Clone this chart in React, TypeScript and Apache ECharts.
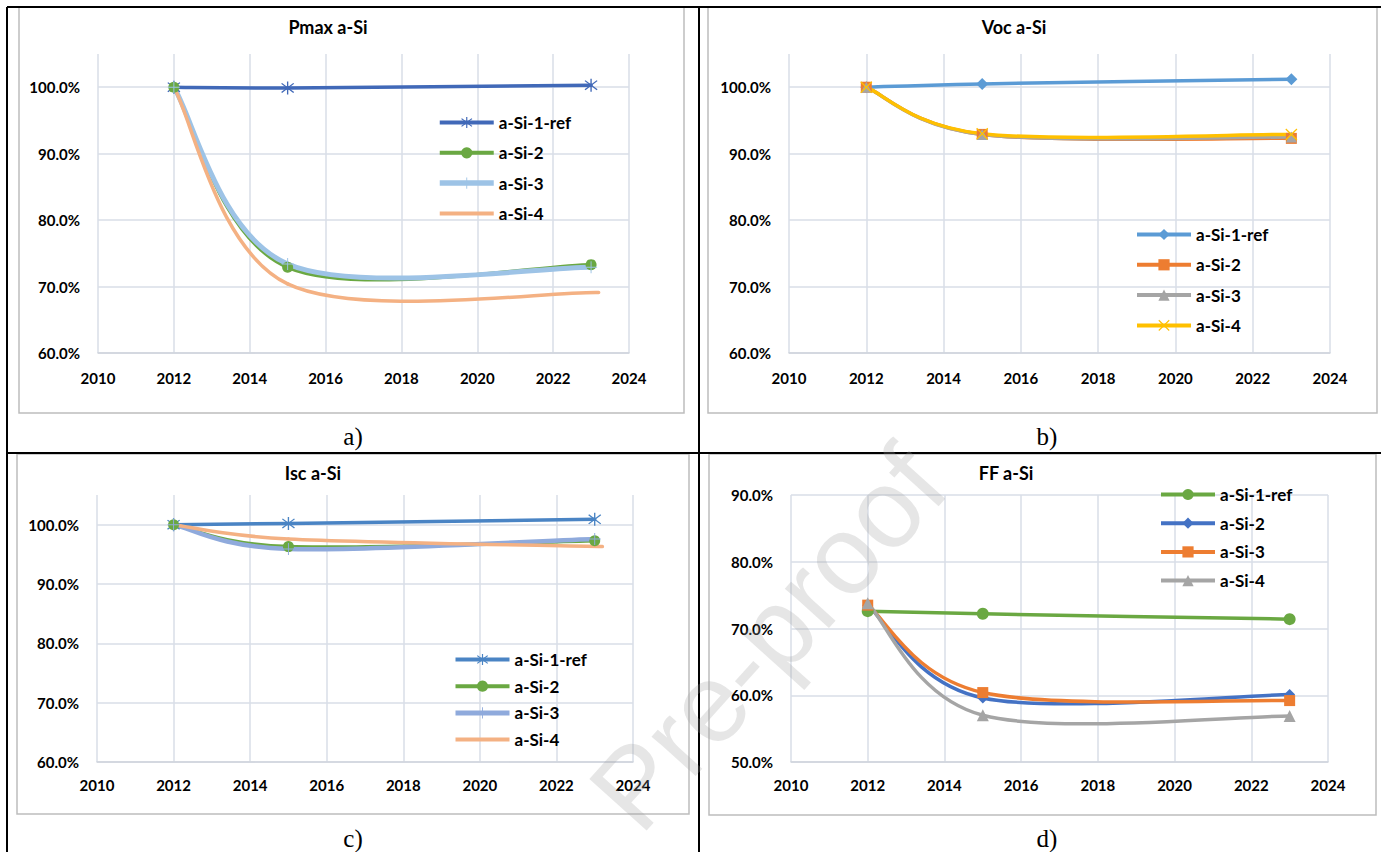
import React, { useEffect, useRef } from 'react';
import * as echarts from 'echarts';

// ---------- data ----------
const seriesLabels = ['a-Si-1-ref', 'a-Si-2', 'a-Si-3', 'a-Si-4'];
const years = [2012, 2015, 2023];
const yearsLate = [2012, 2015, 2023.2];

const pmaxRef = [100.0, 99.9, 100.3];
const pmax2 = [100.0, 72.9, 73.3];
const pmax3 = [100.0, 73.4, 72.9];
const pmax4 = [100.0, 70.4, 69.1];

const vocRef = [100.0, 100.5, 101.2];
const voc2 = [100.0, 92.9, 92.3];
const voc3 = [100.0, 92.9, 92.5];
const voc4 = [100.0, 93.0, 92.9];

const iscRef = [100.0, 100.2, 100.9];
const isc2 = [100.0, 96.3, 97.3];
const isc3 = [100.0, 95.9, 97.6];
const isc4 = [100.0, 97.6, 96.3];

const ffRef = [72.6, 72.2, 71.4];
const ff2 = [73.5, 59.6, 60.1];
const ff3 = [73.5, 60.4, 59.2];
const ff4 = [73.8, 57.0, 56.9];

const panelTitles = ['Pmax a-Si', 'Voc a-Si', 'Isc a-Si', 'FF a-Si'];
const panelLetters = ['a)', 'b)', 'c)', 'd)'];

// ---------- symbols ----------
const STAR =
  'path://M9.1,0L10.9,0L10.9,20L9.1,20Z M2.593,2.323L18.593,16.323L17.407,17.677L1.407,3.677Z M18.593,3.677L2.593,17.677L1.407,16.323L17.407,2.323Z';
const PLUS = 'path://M9.2,0L10.8,0L10.8,20L9.2,20Z M0,9.2L20,9.2L20,10.8L0,10.8Z';
const XMARK =
  'path://M2.593,2.323L18.593,16.323L17.407,17.677L1.407,3.677Z M18.593,3.677L2.593,17.677L1.407,16.323L17.407,2.323Z';

const FONT = 'Lato, "Open Sans", sans-serif';

type SDef = { vals: number[]; xs: number[]; color: string; symbol: string; size: number; width: number };

const panels: {
  id: string;
  grid: { left: number; top: number; width: number; height: number };
  yMin: number;
  yMax: number;
  hideMax: boolean;
  legend: { left: number; top: number; gap: number };
  xLabelMargin: number;
  series: SDef[];
}[] = [
  {
    id: 'a',
    grid: { left: 98, top: 54, width: 531, height: 299 },
    yMin: 60,
    yMax: 105,
    hideMax: true,
    legend: { left: 437, top: 114, gap: 13.3 },
    xLabelMargin: 17,
    series: [
      { vals: pmaxRef, xs: years, color: '#4169B8', symbol: STAR, size: 13, width: 3.5 },
      { vals: pmax2, xs: years, color: '#6AA842', symbol: 'circle', size: 11, width: 3.5 },
      { vals: pmax3, xs: years, color: '#9DC3E6', symbol: PLUS, size: 12, width: 5 },
      { vals: pmax4, xs: yearsLate, color: '#F4B183', symbol: 'none', size: 0, width: 3.5 },
    ],
  },
  {
    id: 'b',
    grid: { left: 789, top: 54, width: 541, height: 299 },
    yMin: 60,
    yMax: 105,
    hideMax: true,
    legend: { left: 1135, top: 226, gap: 13.3 },
    xLabelMargin: 17,
    series: [
      { vals: vocRef, xs: years, color: '#5B9BD5', symbol: 'diamond', size: 12, width: 3.5 },
      { vals: voc2, xs: years, color: '#ED7D31', symbol: 'rect', size: 11, width: 3.5 },
      { vals: voc3, xs: years, color: '#A5A5A5', symbol: 'triangle', size: 11, width: 3.5 },
      { vals: voc4, xs: years, color: '#FFC000', symbol: XMARK, size: 12, width: 3.5 },
    ],
  },
  {
    id: 'c',
    grid: { left: 97, top: 495, width: 536, height: 267 },
    yMin: 60,
    yMax: 105,
    hideMax: true,
    legend: { left: 453, top: 651, gap: 9.7 },
    xLabelMargin: 15,
    series: [
      { vals: iscRef, xs: years, color: '#4A84C4', symbol: STAR, size: 13, width: 3.5 },
      { vals: isc2, xs: years, color: '#6AA842', symbol: 'circle', size: 11, width: 3.5 },
      { vals: isc3, xs: years, color: '#8FAADC', symbol: PLUS, size: 12, width: 4.5 },
      { vals: isc4, xs: yearsLate, color: '#F4B183', symbol: 'none', size: 0, width: 3.5 },
    ],
  },
  {
    id: 'd',
    grid: { left: 791, top: 495, width: 537, height: 267 },
    yMin: 50,
    yMax: 90,
    hideMax: false,
    legend: { left: 1159, top: 486, gap: 11.7 },
    xLabelMargin: 15,
    series: [
      { vals: ffRef, xs: years, color: '#6AA842', symbol: 'circle', size: 12, width: 3.5 },
      { vals: ff2, xs: years, color: '#4472C4', symbol: 'diamond', size: 11, width: 3.5 },
      { vals: ff3, xs: years, color: '#ED7D31', symbol: 'rect', size: 11, width: 3.5 },
      { vals: ff4, xs: years, color: '#A5A5A5', symbol: 'triangle', size: 12, width: 3.5 },
    ],
  },
];

const GRID_COLOR = '#d9dee7';

// Excel-like smoothed curve (Catmull-Rom style Bezier) through the data points,
// positioned by the library's own coordinate system via api.coord.
function makeCurveRenderer(s: SDef) {
  return (params: any, api: any) => {
    if (params.dataIndex !== 0) return null;
    const pts: number[][] = s.xs.map((x, i) => api.coord([x, s.vals[i]]));
    const children: any[] = [];
    for (let i = 0; i < pts.length - 1; i++) {
      const p0 = pts[i - 1] || pts[i];
      const p1 = pts[i];
      const p2 = pts[i + 1];
      const p3 = pts[i + 2] || pts[i + 1];
      children.push({
        type: 'bezierCurve',
        shape: {
          x1: p1[0],
          y1: p1[1],
          x2: p2[0],
          y2: p2[1],
          cpx1: p1[0] + (p2[0] - p0[0]) / 6,
          cpy1: p1[1] + (p2[1] - p0[1]) / 6,
          cpx2: p2[0] - (p3[0] - p1[0]) / 6,
          cpy2: p2[1] - (p3[1] - p1[1]) / 6,
        },
        style: { stroke: s.color, lineWidth: s.width, fill: null, lineCap: 'round' },
      });
    }
    return { type: 'group', children };
  };
}

function buildOption() {
  const grid: any[] = [];
  const xAxis: any[] = [];
  const yAxis: any[] = [];
  const legend: any[] = [];
  const series: any[] = [];

  panels.forEach((p, pi) => {
    grid.push({ ...p.grid, containLabel: false });
    xAxis.push({
      type: 'value',
      gridIndex: pi,
      min: 2010,
      max: 2024,
      interval: 2,
      axisLine: { show: true, lineStyle: { color: '#d0d4dc', width: 1.5 } },
      axisTick: { show: false },
      splitLine: { show: true, lineStyle: { color: GRID_COLOR, width: 1.5 } },
      axisLabel: {
        margin: p.xLabelMargin,
        color: '#000',
        fontFamily: FONT,
        fontWeight: 'bold',
        fontSize: 15,
        formatter: (v: number) => String(v),
      },
    });
    yAxis.push({
      type: 'value',
      gridIndex: pi,
      min: p.yMin,
      max: p.yMax,
      interval: 10,
      axisLine: { show: false },
      axisTick: { show: false },
      splitLine: {
        show: true,
        showMaxLine: !p.hideMax,
        lineStyle: { color: GRID_COLOR, width: 1.5 },
      },
      axisLabel: {
        margin: 18,
        showMaxLabel: !p.hideMax,
        color: '#000',
        fontFamily: FONT,
        fontWeight: 'bold',
        fontSize: 15,
        formatter: (v: number) => (v % 10 === 0 ? v.toFixed(1) + '%' : ''),
      },
    });

    // smoothed curves
    p.series.forEach((s, si) => {
      series.push({
        type: 'custom',
        name: p.id + '-curve-' + si,
        coordinateSystem: 'cartesian2d',
        xAxisIndex: pi,
        yAxisIndex: pi,
        data: s.xs.map((x, i) => [x, s.vals[i]]),
        renderItem: makeCurveRenderer(s),
        silent: true,
        z: 2,
      });
    });

    // markers (and legend entries)
    const legendData: any[] = [];
    p.series.forEach((s, si) => {
      const name = p.id + '|' + seriesLabels[si];
      legendData.push({
        name,
        lineStyle: { width: s.width + 0.5, opacity: 1 },
        itemStyle: { opacity: s.symbol === 'none' ? 0 : 1 },
      });
      series.push({
        type: 'line',
        name,
        xAxisIndex: pi,
        yAxisIndex: pi,
        data: s.xs.map((x, i) => [x, s.vals[i]]),
        symbol: s.symbol,
        symbolSize: s.size,
        showSymbol: s.symbol !== 'none',
        lineStyle: { color: s.color, width: s.width, opacity: 0 },
        itemStyle: { color: s.color, borderColor: s.color, borderWidth: 0 },
        z: 3,
      });
    });
    legend.push({
      data: legendData,
      orient: 'vertical',
      left: p.legend.left,
      top: p.legend.top,
      padding: 0,
      itemGap: p.legend.gap,
      itemWidth: 54,
      itemHeight: 14,
      formatter: (n: string) => n.split('|')[1],
      selectedMode: false,
      lineStyle: { opacity: 1 },
      textStyle: { color: '#000', fontFamily: FONT, fontWeight: 'bold', fontSize: 17 },
    });
  });

  const boxes = [
    { x: 19, y: 7, w: 665, h: 406 },
    { x: 708, y: 7, w: 669, h: 406 },
    { x: 17, y: 454, w: 672, h: 360 },
    { x: 709, y: 454, w: 667, h: 361 },
  ];
  const titlePos = [
    [328, 27],
    [1014, 27],
    [313, 473],
    [1006, 473],
  ];
  const letterPos = [
    [353, 436],
    [1047, 436],
    [353, 838],
    [1047, 838],
  ];

  const graphic: any[] = [];
  boxes.forEach((b) => {
    graphic.push({
      type: 'rect',
      shape: { x: b.x, y: b.y, width: b.w, height: b.h },
      style: { fill: 'none', stroke: '#bdbdbd', lineWidth: 1.5 },
      z: 0,
    });
  });
  panelTitles.forEach((t, i) => {
    graphic.push({
      type: 'text',
      x: titlePos[i][0],
      y: titlePos[i][1],
      style: {
        text: t,
        fill: '#000',
        fontFamily: FONT,
        fontWeight: 'bold',
        fontSize: 18,
        align: 'center',
        verticalAlign: 'middle',
      },
    });
  });
  panelLetters.forEach((t, i) => {
    graphic.push({
      type: 'text',
      x: letterPos[i][0],
      y: letterPos[i][1],
      style: {
        text: t,
        fill: '#000',
        fontFamily: '"Liberation Serif", "Times New Roman", serif',
        fontSize: 25,
        align: 'center',
        verticalAlign: 'middle',
      },
    });
  });
  // table borders
  const lines = [
    [7, 7, 1381, 7],
    [7, 7, 7, 852],
    [699, 7, 699, 852],
    [7, 453, 1381, 453],
  ];
  lines.forEach((l) => {
    graphic.push({
      type: 'line',
      shape: { x1: l[0], y1: l[1], x2: l[2], y2: l[3] },
      style: { stroke: '#000', lineWidth: 2 },
      z: 1,
    });
  });
  // watermark
  graphic.push({
    type: 'text',
    x: 768,
    y: 638,
    rotation: (48 * Math.PI) / 180,
    style: {
      text: 'Pre-proof',
      fill: 'rgba(160,160,160,0.26)',
      fontFamily: '"Liberation Sans", Arial, sans-serif',
      fontSize: 112,
      align: 'center',
      verticalAlign: 'middle',
    },
    z: 100,
  });

  return {
    animation: false,
    backgroundColor: '#ffffff',
    grid,
    xAxis,
    yAxis,
    legend,
    series,
    graphic,
  };
}

export default function App() {
  const ref = useRef<HTMLDivElement>(null);
  useEffect(() => {
    if (!ref.current) return;
    const chart = echarts.init(ref.current, undefined, { renderer: 'svg' });
    chart.setOption(buildOption() as any);
    return () => chart.dispose();
  }, []);
  return (
    <div
      ref={ref}
      style={{ position: 'absolute', left: 0, top: 0, width: 1381, height: 852, background: '#fff' }}
    />
  );
}
